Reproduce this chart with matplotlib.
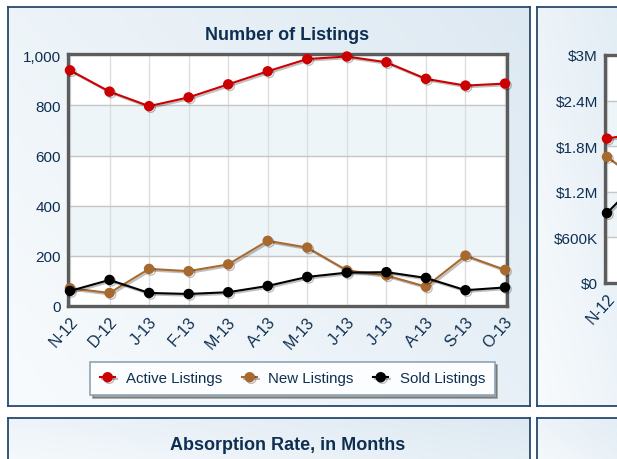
import numpy as np
import matplotlib
matplotlib.use("Agg")
import matplotlib.pyplot as plt
from matplotlib import patheffects as pe
from matplotlib import transforms as mtrans
from matplotlib.colors import LinearSegmentedColormap

plt.rcParams['font.family'] = ['Liberation Sans', 'DejaVu Sans']

W, H = 617, 460
NAVY = '#0f2f52'

# ---------------- data ----------------
months = ["N-12", "D-12", "J-13", "F-13", "M-13", "A-13",
          "M-13", "J-13", "J-13", "A-13", "S-13", "O-13"]
active_listings = [940, 855, 797, 832, 884, 936, 985, 995, 972, 906, 879, 887]
new_listings = [71, 52, 148, 139, 166, 260, 233, 142, 122, 77, 201, 144]
sold_listings = [60, 104, 52, 48, 55, 80, 116, 133, 135, 112, 63, 74]

# second chart (only its left edge is visible)
price_months = ["N-12", "D-12"]
price_active = [1.90e6, 1.99e6]
price_new = [1.66e6, 1.28e6]
price_sold = [0.92e6, 1.45e6]
price_ticks = [0, 0.6e6, 1.2e6, 1.8e6, 2.4e6, 3.0e6]
price_labels = ["$0", "$600K", "$1.2M", "$1.8M", "$2.4M", "$3M"]

series_colors = ['#cc0000', '#a8692e', '#000000']
series_names = ["Active Listings", "New Listings", "Sold Listings"]


def fig_rect(x0, y0, x1, y1):
    return [x0 / W, 1 - y1 / H, (x1 - x0) / W, (y1 - y0) / H]


fig = plt.figure(figsize=(W / 100, H / 100), dpi=100)
fig.patch.set_facecolor('white')

# ---------------- panel backgrounds ----------------
gx, gy = np.meshgrid(np.linspace(0, 1, 80), np.linspace(0, 1, 80))
grad = 0.6 * gx + 0.4 * gy
panel_cmap = LinearSegmentedColormap.from_list('panel', ['#f8fbfd', '#dde9f2'])


def panel(x0, y0, x1, y1):
    p = fig.add_axes(fig_rect(x0, y0, x1, y1), zorder=-5)
    p.imshow(grad, cmap=panel_cmap, extent=[0, 1, 0, 1], aspect='auto',
             vmin=0, vmax=1, origin='lower')
    p.set_xticks([])
    p.set_yticks([])
    for s in p.spines.values():
        s.set_color('#27496b')
        s.set_linewidth(1.3)
    return p


panel(8, 8, 530, 407)
panel(537, 8, 660, 407)
panel(8, 419, 530, 480)
panel(537, 419, 660, 480)

fig.text(287.5 / W, 1 - 35 / H, "Number of Listings", ha='center', va='center',
         fontsize=13, fontweight='bold', color=NAVY)
fig.text(287.5 / W, 1 - 446 / H, "Absorption Rate, in Months", ha='center',
         va='center', fontsize=13, fontweight='bold', color=NAVY)

shadow = [pe.SimpleLineShadow(offset=(1.2, -1.2), alpha=0.25), pe.Normal()]


def style_axes(ax, y_bands):
    for lo, hi in y_bands:
        ax.axhspan(lo, hi, color='#eef5f9', zorder=0)
    ax.set_facecolor('white')
    ax.grid(True, axis='x', color='#dedede', linewidth=1.0, zorder=1)
    ax.grid(True, axis='y', color='#c6c6c6', linewidth=1.0, zorder=1)
    ax.set_axisbelow(True)
    for s in ax.spines.values():
        s.set_color('#5c5c5c')
        s.set_linewidth(2.4)
    ax.tick_params(length=0, colors=NAVY, labelsize=11, pad=5)
    ax.tick_params(axis='x', labelsize=11.5, pad=9)


def rotate_xlabels(ax, labels):
    ax.set_xticklabels(labels, rotation=48, ha='right', va='center',
                       rotation_mode='anchor')
    shift = mtrans.ScaledTranslation(5 / 100, 0, fig.dpi_scale_trans)
    for t in ax.get_xticklabels():
        t.set_transform(t.get_transform() + shift)


# ---------------- main chart ----------------
ax = fig.add_axes(fig_rect(68, 55, 507, 307))
x = np.arange(len(months))
style_axes(ax, [(200, 400), (600, 800)])
for vals, c, name in zip([active_listings, new_listings, sold_listings],
                         series_colors, series_names):
    ax.plot(x, vals, '-o', color=c, lw=1.5, ms=6.5, label=name,
            path_effects=shadow, zorder=3, clip_on=False)
ax.set_xlim(-0.05, len(months) - 0.95)
ax.set_ylim(0, 1005)
ax.set_yticks([0, 200, 400, 600, 800, 1000])
ax.set_yticklabels(["0", "200", "400", "600", "800", "1,000"])
ax.set_xticks(x)
rotate_xlabels(ax, months)

leg = ax.legend(loc='center', bbox_to_anchor=(292.5 / W, 1 - 379.5 / H),
                bbox_transform=fig.transFigure, ncol=3, fontsize=10.8,
                frameon=True, fancybox=False, shadow=True, handlelength=1.0,
                columnspacing=1.3, handletextpad=0.75, borderpad=0.65,
                borderaxespad=0, edgecolor='#8fa3b5')
leg.get_frame().set_facecolor('#fbfdfe')
leg.get_frame().set_linewidth(1.2)
for t in leg.get_texts():
    t.set_color(NAVY)

# ---------------- second chart (cut off at right edge) ----------------
ax2 = fig.add_axes(fig_rect(605, 56, 1045, 284))
style_axes(ax2, [(0.6e6, 1.2e6), (1.8e6, 2.4e6)])
x2 = np.arange(len(price_months))
for vals, c in zip([price_active, price_new, price_sold], series_colors):
    ax2.plot(x2, vals, '-o', color=c, lw=1.5, ms=6.5, path_effects=shadow,
             zorder=3, clip_on=False)
ax2.set_xlim(-0.05, 11.05)
ax2.set_ylim(0, 3.0e6)
ax2.set_yticks(price_ticks)
ax2.set_yticklabels(price_labels)
ax2.set_xticks(x2)
rotate_xlabels(ax2, price_months)

fig.savefig("out.png", dpi=100)
